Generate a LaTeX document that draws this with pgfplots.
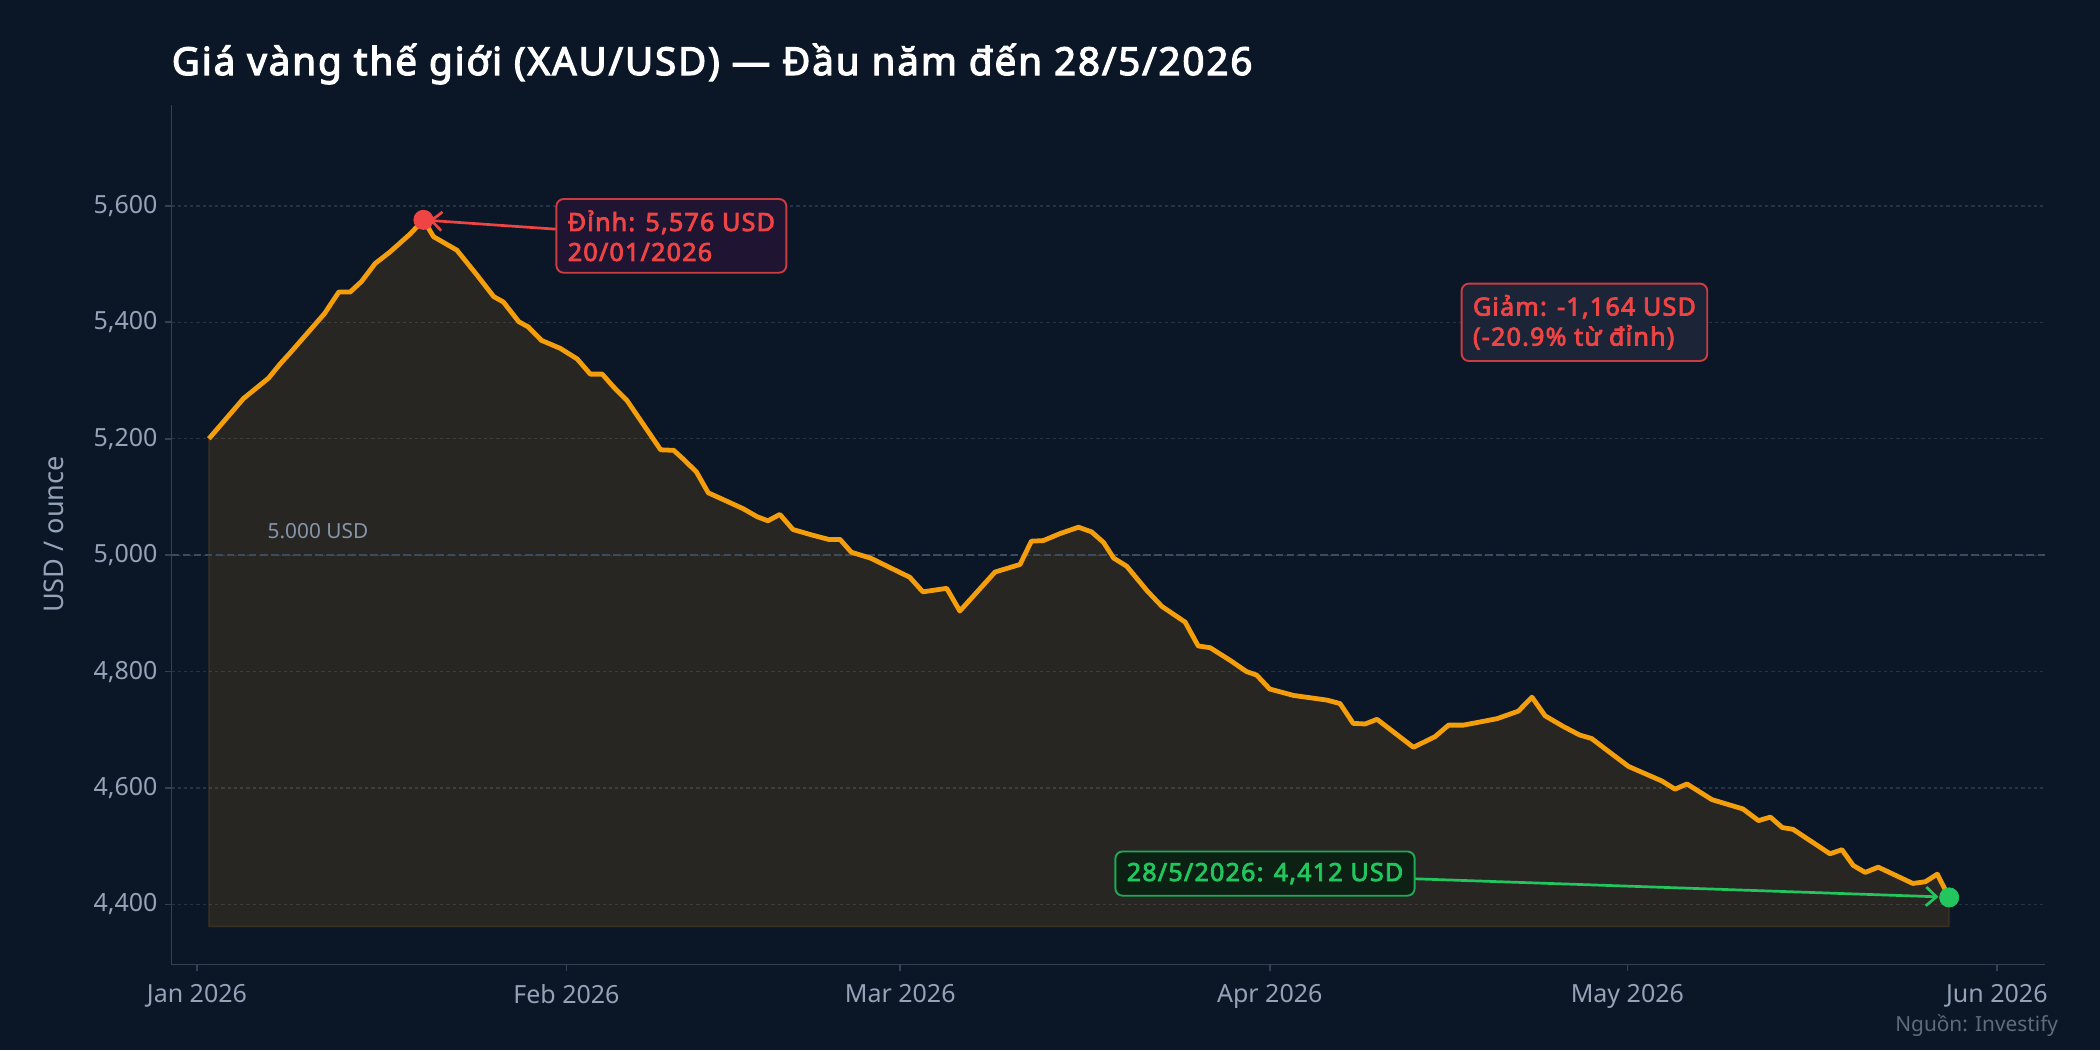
\documentclass[border=0pt]{standalone}
\usepackage{pgfplots}
\pgfplotsset{compat=1.18}
\usepackage{pgfplotstable}
\usepgfplotslibrary{fillbetween}
\usetikzlibrary{arrows.meta}
\usepackage{fontspec}
\setmainfont{Noto Sans}[BoldFont={Noto Sans}, BoldFeatures={FakeBold=3.2, LetterSpace=5}]

\definecolor{bg}{HTML}{0B1627}
\definecolor{amber}{HTML}{F59E0B}
\definecolor{peakred}{HTML}{EF4444}
\definecolor{endgreen}{HTML}{22C55E}
\definecolor{spine}{HTML}{334155}
\definecolor{gridc}{HTML}{253144}
\definecolor{refline}{HTML}{3C4B5F}
\definecolor{tickc}{HTML}{94A3B8}
\definecolor{srcc}{HTML}{5F6B7C}
\definecolor{redbox}{HTML}{1F1431}
\definecolor{slatebox}{HTML}{1C2537}
\definecolor{greenbox}{HTML}{0C2014}

% x = days since 1 Jan 2026, y = USD / ounce
\pgfplotstableread{
day price
1 5200
3.9 5269
6.0 5304
7.0 5329
7.8 5347
10.7 5415
11.9 5452
12.85 5452
13.8 5470
14.95 5501
16.2 5521
17.9 5552
19 5576
19.85 5547
21.8 5524
23.5 5481
24.9 5444
25.7 5435
27.0 5401
27.8 5392
28.9 5369
30.5 5355
31.9 5337
33.0 5311
34.0 5311
34.9 5290
36.1 5265
38.9 5181
40.0 5180
40.8 5165
41.9 5143
42.9 5107
44.2 5095
45.8 5080
47.0 5066
47.9 5059
48.9 5070
50.0 5044
51.7 5034
53.0 5027
53.95 5027
54.9 5005
56.5 4995
58.4 4976
59.8 4962
60.9 4937
62.9 4943
64.0 4904
66.95 4971
69.05 4984
70.0 5024
71.0 5025
72.4 5037
73.95 5048
75.05 5040
76.05 5022
76.9 4995
78.0 4981
79.7 4939
80.95 4912
82.9 4885
84.0 4844
85.0 4841
86.7 4819
88.05 4800
88.9 4794
90.0 4770
92.0 4759
94.8 4751
95.9 4745
97.0 4711
98.0 4710
99.0 4718
102.05 4670
103.85 4688
105.0 4708
106.25 4708
109.05 4719
110.85 4732
112.0 4756
113.1 4724
114.6 4706
116.0 4691
117.0 4685
118.8 4657
120.1 4637
122.9 4612
124.0 4598
125.0 4607
127.1 4580
129.7 4564
131.0 4544
132.0 4550
133.0 4532
133.9 4529
137.0 4487
138.0 4494
138.95 4467
139.95 4455
141.05 4464
143.95 4436
145.0 4439
146.0 4452
147 4412
}\price

\begin{document}
\begin{tikzpicture}
\begin{axis}[
    set layers,
    scale only axis,
    width=899.3pt, height=412.7pt,
    at={(0,0)}, anchor=south west,
    xmin=-2.14, xmax=155.04,
    ymin=4297, ymax=5774,
    clip=false,
    axis lines*=left,
    axis line style={draw=spine, line width=0.8pt, -},
    tick align=outside,
    major tick length=3.2pt,
    tick style={draw=spine, line width=0.8pt},
    xtick={0,31,59,90,120,151},
    xticklabels={Jan 2026,Feb 2026,Mar 2026,Apr 2026,May 2026,Jun 2026},
    xticklabel style={yshift=-3pt},
    ytick={4400,4600,4800,5000,5200,5400,5600},
    yticklabel={\pgfmathprintnumber[fixed,1000 sep={,},assume math mode=true]{\tick}},
    tick label style={font=\fontsize{12}{14}\selectfont, text=tickc},
    ymajorgrids,
    grid style={draw=gridc, line width=0.6pt, dash pattern=on 1.5pt off 1.5pt},
    every axis y label/.style={at={(axis description cs:-0.0629,0.5)}, rotate=90, anchor=center},
    ylabel={USD / ounce},
    ylabel style={font=\fontsize{13}{15}\selectfont, text=tickc},
]
% figure background
\begin{pgfonlayer}{axis background}
\fill[bg] (axis description cs:-0.09151,-0.09959) rectangle (axis description cs:1.02936,1.12164);
\end{pgfonlayer}

% 5,000 reference line
\addplot[draw=refline, line width=1pt, dash pattern=on 3.7pt off 1.6pt] coordinates {(-2.14,5000) (155.04,5000)};
\node[anchor=west, inner sep=0, font=\fontsize{10}{12}\selectfont, text=tickc!90!bg] at (axis cs:5.9,5042) {5.000 USD};

% area under the price
\addplot[name path=base, draw=none] coordinates {(1,4362) (147,4362)};
\addplot[name path=price, draw=none] table[x=day, y=price] {\price};
\addplot[fill=amber, fill opacity=0.12, draw=amber, draw opacity=0.12, line width=0.8pt] fill between[of=price and base];

% price line
\addplot[draw=amber, line width=2.3pt, line join=round] table[x=day, y=price] {\price};

% peak and last close
\addplot[only marks, mark=*, mark size=4.6pt, mark options={draw=peakred, fill=peakred}] coordinates {(19,5576)};
\addplot[only marks, mark=*, mark size=4.6pt, mark options={draw=endgreen, fill=endgreen}] coordinates {(147,4412)};

% annotations
\draw[peakred, line width=1.3pt, -{Straight Barb[length=5pt,width=9pt]}] (axis cs:30.1,5560) -- (axis cs:19.5,5575);
\node[draw=peakred!85!bg, line width=0.9pt, fill=redbox, rounded corners=3.5pt,
      inner xsep=5.5pt, inner ysep=5.5pt, align=left, text=peakred,
      font=\bfseries\fontsize{12}{14.4}\selectfont] at (axis cs:39.8,5548.5) {Đỉnh: 5,576 USD\\20/01/2026};

\node[draw=peakred!85!bg, line width=0.9pt, fill=slatebox, rounded corners=3.5pt,
      inner xsep=5.5pt, inner ysep=5.5pt, align=left, text=peakred,
      font=\bfseries\fontsize{12}{14.4}\selectfont] at (axis cs:116.4,5400) {Giảm: -1,164 USD\\(-20.9\% từ đỉnh)};

\draw[endgreen, line width=1.3pt, -{Straight Barb[length=5pt,width=9pt]}] (axis cs:102.2,4444) -- (axis cs:146.1,4413);
\node[draw=endgreen!85!bg, line width=0.9pt, fill=greenbox, rounded corners=3.5pt,
      inner xsep=5.5pt, inner ysep=5.5pt, align=left, text=endgreen,
      font=\bfseries\fontsize{12}{14.4}\selectfont] at (axis cs:89.6,4453) {28/5/2026: 4,412 USD};

% title and source
\node[anchor=base west, inner sep=0, yshift=14.2pt, text=white,
      font=\bfseries\fontsize{18.5}{22}\selectfont] at (axis description cs:0,1)
      {Giá vàng thế giới (XAU/USD) — Đầu năm đến 28/5/2026};
\node[anchor=south east, inner sep=0, font=\fontsize{10}{12}\selectfont, text=srcc]
      at (axis description cs:1.0072,-0.0849) {Nguồn: Investify};
\end{axis}
\pgfresetboundingbox
\useasboundingbox (-82.3pt,-41.1pt) rectangle (925.7pt,462.9pt);
\end{tikzpicture}
\end{document}
